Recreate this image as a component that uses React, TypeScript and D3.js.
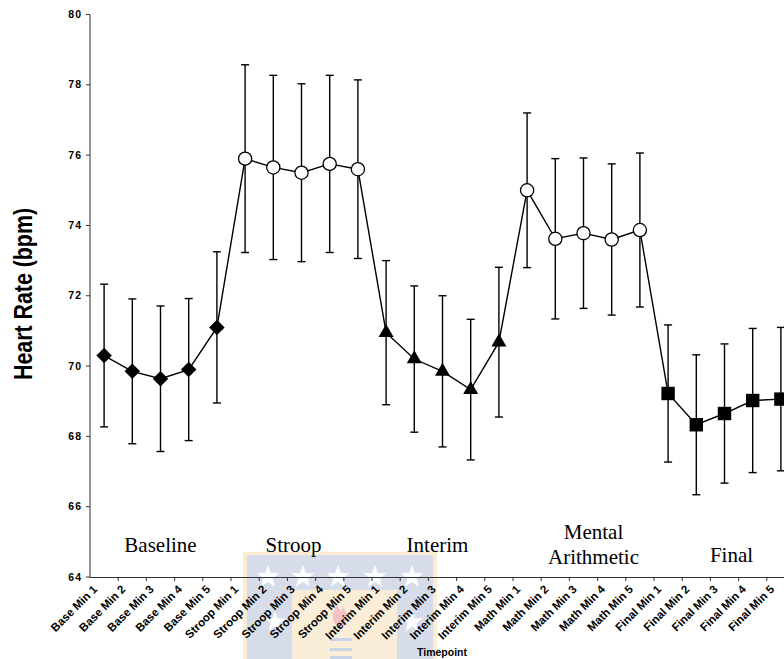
import React from "react";
import * as d3 from "d3";

// Timepoints along the protocol
const categories = [
  "Base Min 1", "Base Min 2", "Base Min 3", "Base Min 4", "Base Min 5",
  "Stroop Min 1", "Stroop Min 2", "Stroop Min 3", "Stroop Min 4", "Stroop Min 5",
  "Interim Min 1", "Interim Min 2", "Interim Min 3", "Interim Min 4", "Interim Min 5",
  "Math Min 1", "Math Min 2", "Math Min 3", "Math Min 4", "Math Min 5",
  "Final Min 1", "Final Min 2", "Final Min 3", "Final Min 4", "Final Min 5",
];

// Mean heart rate (bpm) at each timepoint
const meanHR = [
  70.3, 69.85, 69.64, 69.9, 71.1,
  75.9, 75.65, 75.5, 75.75, 75.6,
  70.95, 70.2, 69.85, 69.33, 70.68,
  75.0, 73.62, 73.78, 73.6, 73.87,
  69.22, 68.33, 68.65, 69.02, 69.06,
];

// Error bar half-widths (bpm)
const errHR = [
  2.03, 2.06, 2.07, 2.02, 2.15,
  2.67, 2.62, 2.53, 2.52, 2.54,
  2.05, 2.08, 2.15, 2.0, 2.13,
  2.2, 2.28, 2.14, 2.15, 2.19,
  1.95, 1.99, 1.98, 2.05, 2.04,
];

// Phase of the protocol for each timepoint (selects the marker)
const phase = [
  "base", "base", "base", "base", "base",
  "stroop", "stroop", "stroop", "stroop", "stroop",
  "interim", "interim", "interim", "interim", "interim",
  "math", "math", "math", "math", "math",
  "final", "final", "final", "final", "final",
];

const yTicks = [64, 66, 68, 70, 72, 74, 76, 78, 80];

// Phase captions (one or two lines) and the timepoint they sit over
const phaseNames = [["Baseline"], ["Stroop"], ["Interim"], ["Mental", "Arithmetic"], ["Final"]];
const phaseAnchor = [2, 7, 12, 17, 22];

const W = 784;
const H = 659;

export default function App() {
  const x = d3.scaleBand<string>().domain(categories).range([90, 795]);
  const y = d3.scaleLinear().domain([64, 80]).range([577, 14.5]);
  const cx = (i: number) => (x(categories[i]) as number) + x.bandwidth() / 2;

  const line = d3
    .line<number>()
    .x((_, i) => cx(i))
    .y((d) => y(d));

  const diamond = d3.symbol().type(d3.symbolSquare).size(120)();
  const square = d3.symbol().type(d3.symbolSquare).size(180)();
  const triangle = d3.symbol().type(d3.symbolTriangle).size(98)();

  const sans = "'Liberation Sans', Arial, Helvetica, sans-serif";
  const serif = "'Liberation Serif', 'Times New Roman', serif";

  const marker = (p: string, i: number) => {
    const px = cx(i);
    const py = y(meanHR[i]);
    if (p === "base")
      return <path key={i} d={diamond as string} transform={`translate(${px},${py}) rotate(45)`} fill="#000" />;
    if (p === "interim")
      return <path key={i} d={triangle as string} transform={`translate(${px},${py})`} fill="#000" />;
    if (p === "final")
      return <path key={i} d={square as string} transform={`translate(${px},${py})`} fill="#000" />;
    return <circle key={i} cx={px} cy={py} r={6.6} fill="#fff" stroke="#000" strokeWidth={1.3} />;
  };

  const capNudge = [0, -8, -5, 10, 7];

  // University crest watermark in the lower band
  const starXs = [268, 303, 338, 375, 412];
  const star = (sx: number, sy: number, r: number, k: string) => {
    const pts = d3.range(10).map((j) => {
      const a = -Math.PI / 2 + (j * Math.PI) / 5;
      const rr = j % 2 === 0 ? r : r * 0.42;
      return `${sx + rr * Math.cos(a)},${sy + rr * Math.sin(a)}`;
    });
    return <polygon key={k} points={pts.join(" ")} fill="#ffffff" opacity={0.9} />;
  };

  return (
    <svg
      width={W}
      height={H}
      viewBox={`0 0 ${W} ${H}`}
      style={{ position: "absolute", left: 0, top: 0, background: "#fff" }}
    >
      <g>
        <rect x={243} y={552} width={194} height={110} fill="#fcecd2" />
        <rect x={247} y={555} width={186} height={110} fill="#d6dce9" />
        <rect x={292} y={590} width={105} height={75} fill="#fbeed8" />
        {starXs.map((sx, k) => star(sx, 577, 12, `s${k}`))}
        {star(275, 622, 11, "s5")}
        {star(412, 622, 11, "s6")}
        <path d="M340,628 C330,622 332,612 338,604 C338,612 344,612 342,606 C348,612 350,622 340,628 Z" fill="#f2c2c8" />
        <rect x={330} y={638} width={22} height={3} fill="#c9d3e6" />
        <rect x={330} y={648} width={22} height={3} fill="#c9d3e6" />
        <rect x={330} y={656} width={22} height={3} fill="#c9d3e6" />
      </g>

      {/* y axis */}
      <line x1={90} x2={90} y1={y(80)} y2={577} stroke="#6b6b6b" strokeWidth={1.4} />
      {yTicks.map((t) => (
        <g key={t}>
          <line x1={86} x2={90} y1={y(t)} y2={y(t)} stroke="#333" strokeWidth={1} />
          <text
            x={82}
            y={y(t)}
            dy="0.35em"
            textAnchor="end"
            fontFamily={sans}
            fontWeight="bold"
            fontSize={10.5}
            letterSpacing={1}
            fill="#000"
          >
            {t}
          </text>
        </g>
      ))}

      {/* x axis */}
      <line x1={90} x2={W} y1={577.5} y2={577.5} stroke="#333" strokeWidth={1} />
      {categories.map((c, i) => (
        <line
          key={`t${i}`}
          x1={(x(c) as number) + x.bandwidth()}
          x2={(x(c) as number) + x.bandwidth()}
          y1={577.5}
          y2={581}
          stroke="#333"
          strokeWidth={1}
        />
      ))}
      {categories.map((c, i) => (
        <text
          key={`l${i}`}
          transform={`translate(${cx(i) - 6},${590}) rotate(-45)`}
          textAnchor="end"
          fontFamily={sans}
          fontWeight="bold"
          fontSize={11.5}
          fill="#000"
        >
          {c}
        </text>
      ))}
      <text x={417} y={656} fontFamily={sans} fontWeight="bold" fontSize={10.5} fill="#000">
        Timepoint
      </text>

      {/* y label */}
      <text
        transform="translate(32,294) rotate(-90)"
        textAnchor="middle"
        fontFamily={sans}
        fontWeight="bold"
        fontSize={25}
        textLength={172}
        lengthAdjust="spacingAndGlyphs"
        fill="#000"
      >
        Heart Rate (bpm)
      </text>

      {/* phase captions */}
      {phaseNames.map((lines, k) => {
        const px = cx(phaseAnchor[k]) + capNudge[k];
        const base = lines.length === 2 ? 539 : k === 4 ? 562 : 552;
        return (
          <text key={`p${k}`} textAnchor="middle" fontFamily={serif} fontSize={21} fill="#000">
            {lines.map((ln, j) => (
              <tspan key={j} x={px} y={base + j * 25}>
                {ln}
              </tspan>
            ))}
          </text>
        );
      })}

      {/* error bars */}
      {meanHR.map((m, i) => {
        const px = cx(i);
        const top = y(m + errHR[i]);
        const bot = y(m - errHR[i]);
        return (
          <g key={`e${i}`} stroke="#000" strokeWidth={1.4}>
            <line x1={px} x2={px} y1={top} y2={bot} />
            <line x1={px - 4} x2={px + 4} y1={top} y2={top} />
            <line x1={px - 4} x2={px + 4} y1={bot} y2={bot} />
          </g>
        );
      })}

      {/* mean line */}
      <path d={line(meanHR) as string} fill="none" stroke="#000" strokeWidth={1.4} />

      {/* markers */}
      {phase.map((p, i) => marker(p, i))}
    </svg>
  );
}
